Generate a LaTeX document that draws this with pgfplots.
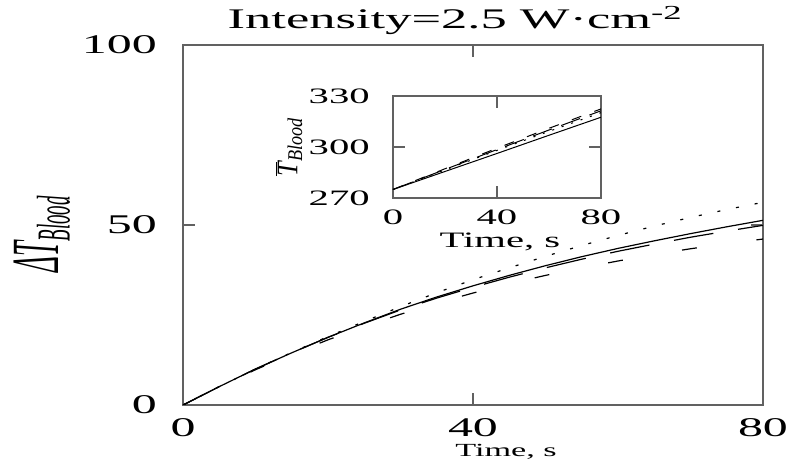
\documentclass[border=0pt]{standalone}
\usepackage{fontspec}
\setmainfont{Liberation Serif}[FakeStretch=1.85]
\newfontfamily\plainfont{Liberation Serif}
\usepackage{graphicx}
\usepackage{pgfplots}
\pgfplotsset{compat=1.18}
\begin{document}
\begin{tikzpicture}
\useasboundingbox (-183pt,-61pt) rectangle (605pt,405pt);
\begin{axis}[
  at={(0pt,0pt)}, anchor=south west,
  scale only axis, width=580pt, height=360pt,
  xmin=0, xmax=80, ymin=0, ymax=100,
  xtick={0,40,80}, ytick={0,50,100},
  tick align=inside, major tick length=12pt,
  axis line style={draw=black!62, line width=1.6pt},
  tick style={draw=black!62, line width=1.2pt},
  /pgf/number format/assume math mode=true,
  tick label style={font=\fontsize{27}{27}\selectfont, inner sep=0pt},
  yticklabel style={anchor=east, xshift=-26pt},
  xticklabel style={anchor=north, yshift=-13pt},
  title={Intensity=2.5 W·cm\textsuperscript{-2}},
  title style={at={([yshift=10pt]axis description cs:0.469,1)}, anchor=base, inner sep=0pt, font=\fontsize{28.4}{30}\selectfont},
  xlabel={Time, s},
  xlabel style={at={([yshift=-47pt]axis description cs:0.557,0)}, anchor=center, inner sep=0pt, font=\fontsize{18.5}{20}\selectfont},
  ylabel={\scalebox{1}[2.5]{\plainfont\fontsize{27}{27}\selectfont\itshape ΔT\textsubscript{Blood}}},
  ylabel style={at={([xshift=-141pt]axis description cs:0,0.475)}, anchor=center, inner sep=0pt},
]
% solid
\addplot[black, line width=1.2pt] coordinates {
(0,0) (5,5.1) (10,10.0) (15,14.5) (20,18.8) (25,22.8) (30,26.6) (35,30.0) (40,33.1)
(45,36.0) (50,38.7) (55,41.2) (60,43.5) (65,45.6) (70,47.6) (75,49.5) (80,51.3)};
% dotted
\addplot[black, line width=1.2pt, dash pattern=on 3pt off 16pt] coordinates {
(0,0) (5,5.1) (10,10.0) (15,14.6) (20,19.0) (25,23.2) (30,27.3) (35,31.2) (40,34.8)
(45,38.1) (50,41.3) (55,44.3) (60,47.1) (65,49.7) (70,52.1) (75,54.3) (80,56.3)};
% long dash
\addplot[black, line width=1.2pt, dash pattern=on 40pt off 25pt] coordinates {
(0,0) (5,5.1) (10,10.0) (15,14.5) (20,18.8) (25,22.7) (30,26.4) (35,29.7) (40,32.7)
(45,35.5) (50,38.1) (55,40.5) (60,42.7) (65,44.7) (70,46.6) (75,48.3) (80,49.9)};
% dashed (lowest)
\addplot[black, line width=1.2pt, dash pattern=on 15pt off 60pt] coordinates {
(0,0) (5,5.0) (10,9.8) (15,14.1) (20,18.1) (25,21.8) (30,25.2) (35,28.3) (40,31.1)
(45,33.7) (50,36.0) (55,38.1) (60,40.0) (65,41.8) (70,43.4) (75,44.8) (80,46.1)};
\end{axis}
\begin{axis}[
  at={(210pt,207pt)}, anchor=south west,
  scale only axis, width=208pt, height=102pt,
  xmin=0, xmax=80, ymin=270, ymax=330,
  xtick={0,40,80}, ytick={270,300,330},
  tick align=inside, major tick length=12pt,
  axis line style={draw=black!62, line width=1.3pt},
  tick style={draw=black!62, line width=1.1pt},
  /pgf/number format/assume math mode=true,
  tick label style={font=\fontsize{22}{22}\selectfont, inner sep=0pt},
  yticklabel style={anchor=east, xshift=-23pt},
  xticklabel style={anchor=north, yshift=-12pt},
  xlabel={Time, s},
  xlabel style={at={([yshift=-44pt]axis description cs:0.514,0)}, anchor=center, inner sep=0pt, font=\fontsize{22}{22}\selectfont},
  ylabel={\scalebox{1}[1.15]{\plainfont\fontsize{26}{26}\selectfont\itshape $\overline{\mbox{T}}$\textsubscript{Blood}}},
  ylabel style={at={(axis description cs:-0.5,0.5)}, anchor=center, inner sep=0pt},
]
\addplot[black, line width=1pt] coordinates {(0,275) (20,285.6) (40,296.2) (60,306.9) (80,317.5)};
\addplot[black, line width=1pt, dash pattern=on 2pt off 8pt] coordinates {(0,275) (20,286.5) (40,298) (60,309.2) (80,320.2)};
\addplot[black, line width=1pt, dash pattern=on 20pt off 10pt] coordinates {(0,275) (20,286.8) (40,298.5) (60,310) (80,321.3)};
\addplot[black, line width=1pt, dash pattern=on 10pt off 14pt] coordinates {(0,275) (20,287.2) (40,299.3) (60,311) (80,322.4)};
\end{axis}
\end{tikzpicture}
\end{document}
